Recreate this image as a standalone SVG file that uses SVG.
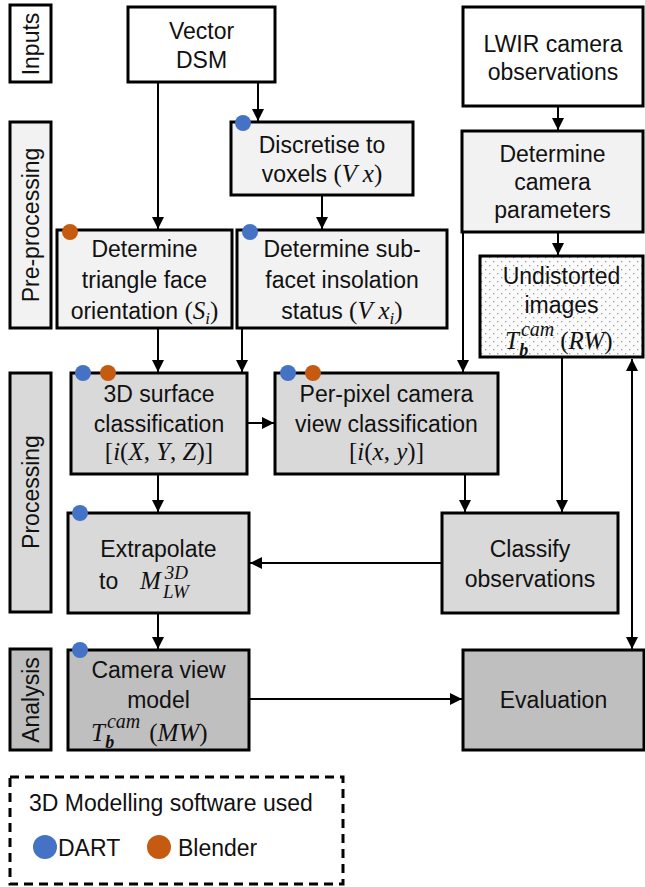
<svg xmlns="http://www.w3.org/2000/svg" width="645" height="887" viewBox="0 0 645 887">
<defs>
<marker id="ah" viewBox="0 0 10 10" refX="10" refY="5" markerWidth="12" markerHeight="12" markerUnits="userSpaceOnUse" orient="auto-start-reverse"><path d="M0,0 L10,5 L0,10 z" fill="#000"/></marker>
<pattern id="dots" width="8" height="8" patternUnits="userSpaceOnUse"><rect width="8" height="8" fill="#fbfbfb"/><rect x="1" y="1" width="1.3" height="1.3" fill="#9a9a9a"/><rect x="5" y="5" width="1.3" height="1.3" fill="#9a9a9a"/></pattern>
</defs>
<style>
.box{stroke:#000;stroke-width:3}
.w{fill:#fff}.p{fill:#f2f2f2}.q{fill:#d9d9d9}.a{fill:#bfbfbf}
.t{font-family:"Liberation Sans",Arial,sans-serif;font-size:23px;fill:#111;text-anchor:middle}
.l{font-family:"Liberation Sans",Arial,sans-serif;font-size:23px;fill:#111}
.m{font-family:"Liberation Serif","DejaVu Serif",serif;font-size:25px;fill:#111}
.i{font-style:italic}
.s{font-size:17px}
.sup{font-size:20px;font-style:italic}
.sub{font-size:18px;font-style:italic;font-weight:bold}
.ss{font-size:19px;font-style:italic}
.c{stroke:#000;stroke-width:2;fill:none;marker-end:url(#ah)}
.bl{fill:#4472c4}.or{fill:#c55a11}
</style>

<g id="label-inputs"><rect class="box w" x="10" y="5" width="41" height="77"/><text class="t" transform="translate(39,44) rotate(-90)">Inputs</text></g>
<g id="label-preprocessing"><rect class="box p" x="10" y="122" width="41" height="206"/><text class="t" transform="translate(39,225) rotate(-90)">Pre-processing</text></g>
<g id="label-processing"><rect class="box q" x="10" y="373" width="41" height="239"/><text class="t" transform="translate(39,492) rotate(-90)">Processing</text></g>
<g id="label-analysis"><rect class="box a" x="10" y="649" width="41" height="101"/><text class="t" transform="translate(39,700) rotate(-90)">Analysis</text></g>

<g id="connectors">
<path class="c" d="M158,82 V229"/>
<path class="c" d="M258,82 V121"/>
<path class="c" d="M322,195 V229"/>
<path class="c" d="M558,106 V130"/>
<path class="c" d="M558,232 V255"/>
<path class="c" d="M463,232 V372"/>
<path class="c" d="M158,328 V372"/>
<path class="c" d="M242,328 V372"/>
<path class="c" d="M247,423 H274"/>
<path class="c" d="M158,474 V512"/>
<path class="c" d="M465,474 V512"/>
<path class="c" d="M562,357 V512"/>
<path class="c" d="M442,563 H250"/>
<path class="c" d="M158,613 V649"/>
<path class="c" d="M249,699 H462"/>
<path class="c" d="M632,359 V649" style="marker-start:url(#ah)"/>
</g>

<g id="vector-dsm"><rect class="box w" x="128" y="7" width="147" height="75"/><text class="t" x="201.5" y="39">Vector</text><text class="t" x="201.5" y="68">DSM</text></g>

<g id="lwir"><rect class="box w" x="463" y="7" width="180" height="99"/><text class="t" x="553" y="52">LWIR camera</text><text class="t" x="553" y="80">observations</text></g>

<g id="discretise"><rect class="box p" x="231" y="122" width="182" height="73"/><text class="t" x="322" y="153">Discretise to</text><text class="t" x="322" y="182">voxels <tspan class="m">(<tspan class="i">V x</tspan>)</tspan></text><circle class="bl" cx="243" cy="123" r="8"/></g>

<g id="camera-params"><rect class="box p" x="462" y="131" width="181" height="101"/><text class="t" x="552.5" y="162">Determine</text><text class="t" x="552.5" y="190">camera</text><text class="t" x="552.5" y="218">parameters</text></g>

<g id="triangle"><rect class="box p" x="57" y="230" width="175" height="98"/><text class="t" x="144.5" y="257">Determine</text><text class="t" x="144.5" y="288">triangle face</text><text class="t" x="144.5" y="319">orientation <tspan class="m">(<tspan class="i">S</tspan><tspan class="i s" dy="5">i</tspan><tspan dy="-5">)</tspan></tspan></text><circle class="or" cx="70" cy="232" r="8"/></g>

<g id="subfacet"><rect class="box p" x="237" y="230" width="210" height="98"/><text class="t" x="342" y="257">Determine sub-</text><text class="t" x="342" y="288">facet insolation</text><text class="t" x="342" y="319">status <tspan class="m">(<tspan class="i">V x</tspan><tspan class="i s" dy="5">i</tspan><tspan dy="-5">)</tspan></tspan></text><circle class="bl" cx="250" cy="232" r="8"/></g>

<g id="undistorted"><rect class="box" x="480" y="256" width="163" height="101" fill="url(#dots)"/><text class="t" x="561.5" y="284">Undistorted</text><text class="t" x="561.5" y="313">images</text><text class="m" x="505" y="349"><tspan class="i">T</tspan><tspan class="sup" dx="2" dy="-13">cam</tspan><tspan class="sub" dx="-35" dy="20">b</tspan><tspan dx="32" dy="-7">(<tspan class="i">RW</tspan>)</tspan></text></g>

<g id="surface"><rect class="box q" x="71" y="373" width="176" height="101"/><text class="t" x="159" y="402">3D surface</text><text class="t" x="159" y="432">classification</text><text class="m" x="159" y="460" text-anchor="middle">[<tspan class="i">i</tspan>(<tspan class="i">X</tspan>, <tspan class="i">Y</tspan>, <tspan class="i">Z</tspan>)]</text><circle class="bl" cx="83" cy="373" r="8"/><circle class="or" cx="108" cy="373" r="8"/></g>

<g id="perpixel"><rect class="box q" x="275" y="373" width="223" height="101"/><text class="t" x="386.5" y="402">Per-pixel camera</text><text class="t" x="386.5" y="432">view classification</text><text class="m" x="386.5" y="460" text-anchor="middle">[<tspan class="i">i</tspan>(<tspan class="i">x</tspan>, <tspan class="i">y</tspan>)]</text><circle class="bl" cx="288" cy="373" r="8"/><circle class="or" cx="313" cy="373" r="8"/></g>

<g id="extrapolate"><rect class="box q" x="68" y="513" width="181" height="100"/><text class="t" x="158.5" y="557">Extrapolate</text><text class="l" x="99" y="589">to</text><text class="m i" x="140" y="589">M<tspan class="ss" dx="4" dy="-10">3D</tspan><tspan class="ss" dx="-25" dy="19">LW</tspan></text><circle class="bl" cx="80" cy="513" r="8"/></g>

<g id="classify"><rect class="box q" x="442" y="513" width="176" height="100"/><text class="t" x="530" y="557">Classify</text><text class="t" x="530" y="587">observations</text></g>

<g id="camera-view"><rect class="box a" x="68" y="650" width="181" height="100"/><text class="t" x="158.5" y="678">Camera view</text><text class="t" x="158.5" y="708">model</text><text class="m" x="91" y="741"><tspan class="i">T</tspan><tspan class="sup" dx="2" dy="-13">cam</tspan><tspan class="sub" dx="-35" dy="20">b</tspan><tspan dx="35" dy="-7">(<tspan class="i">MW</tspan>)</tspan></text><circle class="bl" cx="80" cy="650" r="8"/></g>

<g id="evaluation"><rect class="box a" x="463" y="650" width="181" height="100"/><text class="t" x="553.5" y="708">Evaluation</text></g>

<g id="legend"><rect x="10" y="777" width="333" height="107" fill="none" stroke="#000" stroke-width="3" stroke-dasharray="9,6"/><text class="l" x="29" y="811">3D Modelling software used</text><circle class="bl" cx="45" cy="847" r="12"/><text class="l" x="58" y="856">DART</text><circle class="or" cx="159" cy="847" r="12"/><text class="l" x="178" y="856">Blender</text></g>
</svg>
